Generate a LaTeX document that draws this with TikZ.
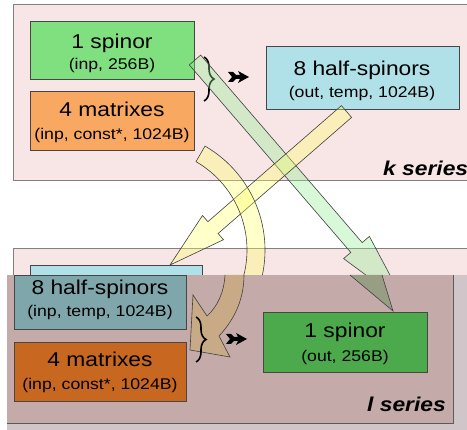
\documentclass[tikz,border=0pt]{standalone}
\usepackage{fontspec}
\setmainfont{Liberation Sans}[FakeStretch=1.14]
\usetikzlibrary{decorations.pathreplacing}
\definecolor{panelpink}{RGB}{248,230,230}
\definecolor{panelline}{RGB}{128,128,128}
\definecolor{boxline}{RGB}{70,70,70}
\definecolor{spgreen}{RGB}{128,224,128}
\definecolor{matorange}{RGB}{249,168,98}
\definecolor{halfblue}{RGB}{176,224,232}
\definecolor{ovbg}{RGB}{197,170,170}
\definecolor{ovstrip}{RGB}{208,197,200}
\definecolor{ovteal}{RGB}{127,166,170}
\definecolor{ovorange}{RGB}{200,104,32}
\definecolor{ovgreen}{RGB}{76,170,76}
\definecolor{arryellow}{RGB}{255,255,102}
\definecolor{arrgreen}{RGB}{144,238,144}
\definecolor{arrtan}{RGB}{200,170,135}
\definecolor{arrolive}{RGB}{152,158,132}
\tikzset{
  box/.style={draw=boxline, line width=0.7pt, anchor=north west, inner sep=0pt},
  main/.style={anchor=base, inner sep=0pt, font=\fontsize{20}{24}\selectfont},
  sub/.style={anchor=base, inner sep=0pt, font=\fontsize{15.5}{18}\selectfont},
  series/.style={anchor=base west, inner sep=0pt, font=\fontsize{20}{24}\selectfont\bfseries\itshape},
  bigarrow/.style={draw=black!75, line width=0.6pt, fill opacity=0.35},
  grp/.style={decorate, decoration={brace, amplitude=10pt, aspect=0.5}, line width=1.6pt},
}
\newcommand{\fletch}[1]{\fill[shift={#1}] (0,-5) -- (5,-5) -- (8,-2) -- (12,-2) -- (10,-6) -- (21,0) -- (10,6) -- (12,2) -- (8,2) -- (5,5) -- (0,5) -- (4,0) -- cycle;}
\begin{document}
\begin{tikzpicture}[x=1pt,y=-1pt]
\useasboundingbox (0,0) rectangle (467,430);
\fill[white] (0,0) rectangle (467,430);
% panels
\draw[panelline, fill=panelpink, line width=0.7pt] (13,4) rectangle (480,180);
\draw[panelline, fill=panelpink, line width=0.7pt] (13,248) rectangle (480,440);
% k series boxes
\node[box, fill=spgreen, minimum width=164pt, minimum height=58pt] (sp1) at (30,21) {};
\node[main] (sp1a) at (112,49) {1 spinor};
\node[sub] (sp1b) at (112,70) {(inp, 256B)};
\node[box, fill=matorange, minimum width=164pt, minimum height=59pt] (mat1) at (30,91) {};
\node[main] (mat1a) at (112,117) {4 matrixes};
\node[sub] (mat1b) at (112,140) {(inp, const*, 1024B)};
\node[box, fill=halfblue, minimum width=193pt, minimum height=63pt] (half1) at (266,46) {};
\node[main] (half1a) at (362,76) {8 half-spinors};
\node[sub] (half1b) at (362,98) {(out, temp, 1024B)};
\node[series] (kser) at (383,176) {k series};
\draw[grp] (204,57) -- (204,101);
\fletch{(228,77)}
% original lower blue box (mostly covered)
\node[box, fill=halfblue, minimum width=172pt, minimum height=30pt] (half2o) at (30,265) {};
% big arrows
\draw[bigarrow, fill=arrgreen] (189.3,64.9) -- (350.8,252.4) -- (343.6,258.6) -- (405.5,304.3) -- (369.4,236.4) -- (362.2,242.6) -- (200.7,55.1) -- cycle;
\draw[bigarrow, fill=arryellow] (341.4,105.6) -- (207.9,221.7) -- (202.5,215.5) -- (170,265) -- (223.5,239.7) -- (218.1,233.5) -- (351.6,117.4) -- cycle;
\begin{scope}
\clip (0,0) rectangle (467,275);
\draw[bigarrow, fill=arryellow] ([shift={(145,250)}]-60:120) arc[start angle=-60, end angle=20, radius=120] -- ([shift={(145,250)}]20:102) arc[start angle=20, end angle=-60, radius=102] -- cycle;
\end{scope}
% overlay (l series)
\fill[ovstrip] (7,275) rectangle (467,430);
\fill[ovbg] (7,275) rectangle (453,423);
\draw[panelline!70!black, line width=0.8pt] (453,275) -- (453,423) -- (7,423);
\node[box, fill=ovteal, minimum width=172pt, minimum height=54pt] (half2) at (14,275) {};
\node[main] (half2a) at (100,295) {8 half-spinors};
\node[sub] (half2b) at (100,317) {(inp, temp, 1024B)};
\node[box, fill=ovorange, minimum width=172pt, minimum height=59pt] (mat2) at (14,342) {};
\node[main] (mat2a) at (100,367) {4 matrixes};
\node[sub] (mat2b) at (100,390) {(inp, const*, 1024B)};
\node[box, fill=ovgreen, minimum width=164pt, minimum height=60pt] (sp2) at (263,312) {};
\node[main] (sp2a) at (345,338) {1 spinor};
\node[sub] (sp2b) at (345,362) {(out, 256B)};
\node[series] (lser) at (367,412) {l series};
% arrow parts inside overlay
\fill[arrolive] (350,275) -- (393,311) -- (382,275) -- cycle;
\draw[black!75, line width=0.6pt] (350,275) -- (393,311) -- (382,275);
\fill[arrtan] (225,275) .. controls (224,292) and (218,306) .. (207,316) -- (193,295) -- (190,350) -- (230,357) -- (219,336) .. controls (236,318) and (244,297) .. (244,275) -- cycle;
\draw[black!75, line width=0.6pt] (225,275) .. controls (224,292) and (218,306) .. (207,316) -- (193,295) -- (190,350) -- (230,357) -- (219,336) .. controls (236,318) and (244,297) .. (244,275);
\draw[grp] (196,317) -- (196,362);
\fletch{(226,339)}
\end{tikzpicture}
\end{document}
